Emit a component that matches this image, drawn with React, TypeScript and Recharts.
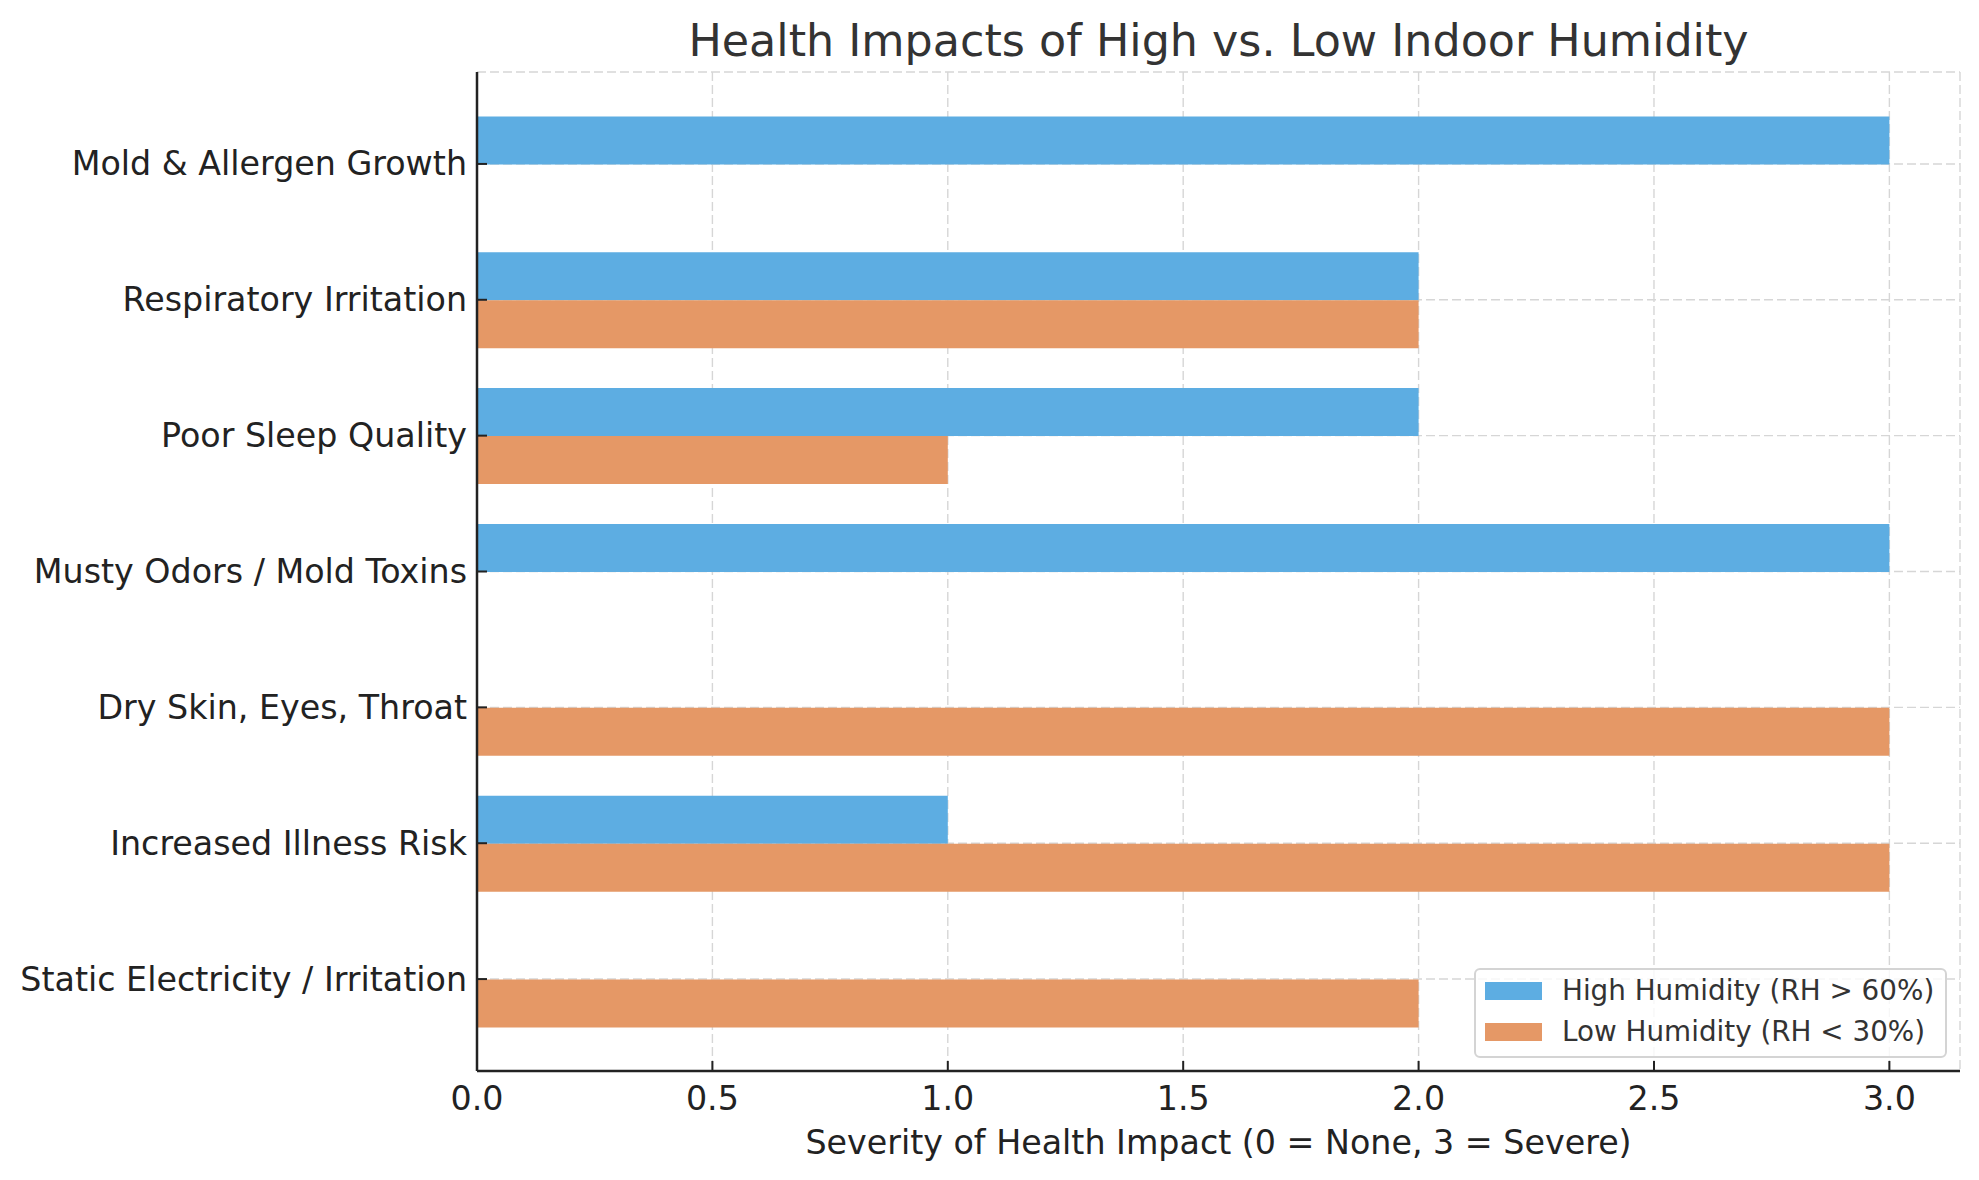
import { BarChart, Bar, XAxis, YAxis, CartesianGrid } from "recharts"

const categories = [
  "Mold & Allergen Growth",
  "Respiratory Irritation",
  "Poor Sleep Quality",
  "Musty Odors / Mold Toxins",
  "Dry Skin, Eyes, Throat",
  "Increased Illness Risk",
  "Static Electricity / Irritation",
]
const highHumidity = [3, 2, 2, 3, 0, 1, 0]
const lowHumidity = [0, 2, 1, 0, 3, 3, 2]
const xTicks = [0, 0.5, 1, 1.5, 2, 2.5, 3]

const data = categories.map((name, i) => ({ name, high: highHumidity[i], low: lowHumidity[i] }))

const FONT = "'DejaVu Sans', sans-serif"
const BLUE = "#5DADE2"
const ORANGE = "#E59866"

function XTick(props: any) {
  const { x, y, payload } = props
  return (
    <g>
      <line x1={x} x2={x} y1={y} y2={y - 10} stroke="#222" strokeWidth={2} />
      <text x={x} y={y + 27} textAnchor="middle" dominantBaseline="central" fontSize={33.3} fill="#222" fontFamily={FONT}>
        {Number(payload.value).toFixed(1)}
      </text>
    </g>
  )
}

function YTick(props: any) {
  const { x, y, payload } = props
  return (
    <g>
      <line x1={x} x2={x + 10} y1={y} y2={y} stroke="#222" strokeWidth={2} />
      <text x={x - 10} y={y} textAnchor="end" dominantBaseline="central" fontSize={33.3} fill="#222" fontFamily={FONT}>
        {payload.value}
      </text>
    </g>
  )
}

export default function App() {
  return (
    <div style={{ position: "absolute", left: 0, top: 0, width: 1979, height: 1180, background: "#fff", fontFamily: FONT }}>
      <div
        style={{
          position: "absolute",
          left: 477,
          width: 1483,
          top: 15,
          textAlign: "center",
          fontSize: 44.4,
          color: "#333",
          lineHeight: "52px",
        }}
      >
        Health Impacts of High vs. Low Indoor Humidity
      </div>
      <BarChart
        width={1979}
        height={1180}
        data={data}
        layout="vertical"
        barCategoryGap="15%"
        barGap={0}
        margin={{ top: 72, right: 19, bottom: 0, left: 0 }}
      >
        <CartesianGrid stroke="#d6d6d6" strokeWidth={1.4} strokeDasharray="9 4" />
        <XAxis
          type="number"
          domain={[0, 3.15]}
          ticks={xTicks}
          interval={0}
          height={109}
          tickSize={0}
          tickMargin={0}
          tickLine={false}
          axisLine={{ stroke: "#222", strokeWidth: 2.5 }}
          tick={<XTick />}
          label={{
            content: (p: any) => {
              const vb = p.viewBox
              return (
                <text
                  x={vb.x + vb.width / 2}
                  y={vb.y + 71}
                  textAnchor="middle"
                  dominantBaseline="central"
                  fontSize={33.3}
                  fill="#222"
                  fontFamily={FONT}
                >
                  Severity of Health Impact (0 = None, 3 = Severe)
                </text>
              )
            },
          }}
        />
        <YAxis
          type="category"
          dataKey="name"
          width={477}
          padding={{ top: 24, bottom: 24 }}
          tickSize={0}
          tickMargin={0}
          tickLine={false}
          interval={0}
          axisLine={{ stroke: "#222", strokeWidth: 2.5 }}
          tick={<YTick />}
        />
        <Bar dataKey="high" name="High Humidity (RH > 60%)" fill={BLUE} isAnimationActive={false} />
        <Bar dataKey="low" name="Low Humidity (RH < 30%)" fill={ORANGE} isAnimationActive={false} />
      </BarChart>
      <div
        style={{
          position: "absolute",
          left: 1474,
          top: 968,
          width: 469,
          height: 86,
          border: "2px solid #d4d4d4",
          borderRadius: 6,
          background: "rgba(255,255,255,0.8)",
        }}
      >
        {[
          { label: "High Humidity (RH > 60%)", color: BLUE, cy: 21 },
          { label: "Low Humidity (RH < 30%)", color: ORANGE, cy: 62 },
        ].map((item) => (
          <div key={item.label}>
            <div style={{ position: "absolute", left: 9, top: item.cy - 9, width: 57, height: 18, background: item.color }} />
            <div
              style={{
                position: "absolute",
                left: 86,
                top: item.cy - 17,
                height: 34,
                lineHeight: "34px",
                fontSize: 27.8,
                color: "#333",
                whiteSpace: "nowrap",
              }}
            >
              {item.label}
            </div>
          </div>
        ))}
      </div>
    </div>
  )
}
